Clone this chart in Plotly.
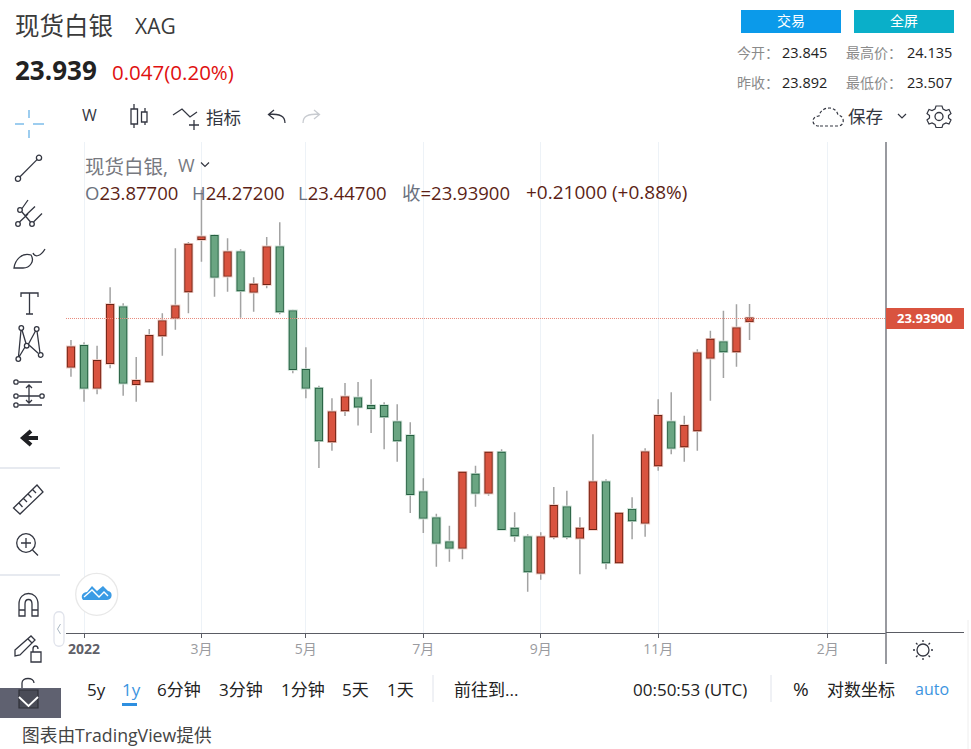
import plotly.graph_objects as go

# weekly candles
dates = [
    "2021-12-27", "2022-01-03", "2022-01-10", "2022-01-17", "2022-01-24", "2022-01-31", "2022-02-07", "2022-02-14",
    "2022-02-21", "2022-02-28", "2022-03-07", "2022-03-14", "2022-03-21", "2022-03-28", "2022-04-04", "2022-04-11",
    "2022-04-18", "2022-04-25", "2022-05-02", "2022-05-09", "2022-05-16", "2022-05-23", "2022-05-30", "2022-06-06",
    "2022-06-13", "2022-06-20", "2022-06-27", "2022-07-04", "2022-07-11", "2022-07-18", "2022-07-25", "2022-08-01",
    "2022-08-08", "2022-08-15", "2022-08-22", "2022-08-29", "2022-09-05", "2022-09-12", "2022-09-19", "2022-09-26",
    "2022-10-03", "2022-10-10", "2022-10-17", "2022-10-24", "2022-10-31", "2022-11-07", "2022-11-14", "2022-11-21",
    "2022-11-28", "2022-12-05", "2022-12-12", "2022-12-19", "2022-12-26",
]
opens = [
    22.833, 23.308, 22.352, 22.918, 24.196, 22.437, 22.498, 23.554, 23.957, 24.563, 25.762, 25.831, 24.921, 25.457,
    24.554, 24.730, 25.572, 24.104, 22.758, 22.329, 21.122, 21.833, 22.109, 21.932, 21.932, 21.558, 21.244, 19.953,
    19.356, 18.806, 18.682, 20.356, 19.944, 20.861, 19.118, 18.920, 18.109, 18.943, 19.609, 18.911, 19.111, 20.182,
    18.347, 19.551, 19.255, 20.572, 21.558, 21.008, 21.375, 23.040, 23.393, 23.187, 23.877,
]
highs = [
    23.446, 23.393, 23.315, 24.654, 24.287, 23.056, 23.698, 24.058, 25.549, 25.693, 26.890, 25.870, 25.778, 25.526,
    24.884, 25.808, 26.145, 24.141, 23.278, 22.398, 22.109, 22.460, 22.482, 22.544, 22.017, 21.971, 21.558, 20.274,
    19.462, 19.187, 20.411, 20.563, 20.870, 20.939, 19.494, 18.989, 19.035, 20.074, 19.989, 19.379, 21.283, 20.251,
    19.485, 19.838, 20.962, 22.086, 22.246, 21.710, 23.232, 23.659, 24.118, 24.265, 24.272,
]
lows = [
    22.604, 22.031, 22.200, 22.797, 22.168, 22.031, 22.494, 23.086, 23.682, 24.058, 25.242, 24.439, 24.554, 23.957,
    24.095, 24.632, 24.035, 22.682, 22.109, 20.510, 20.907, 21.703, 21.485, 21.313, 20.939, 20.655, 19.478, 19.019,
    18.246, 18.361, 18.416, 19.622, 19.874, 19.105, 18.820, 17.673, 17.948, 18.875, 18.875, 18.072, 19.105, 18.187,
    18.338, 18.875, 18.934, 20.448, 20.824, 20.655, 20.907, 22.054, 22.574, 22.833, 23.447,
]
closes = [
    23.278, 22.352, 22.964, 24.249, 22.466, 22.505, 23.538, 23.875, 24.219, 25.632, 25.801, 24.898, 25.457, 24.586,
    24.714, 25.572, 24.104, 22.781, 22.352, 21.145, 21.787, 22.132, 21.921, 21.886, 21.696, 21.145, 19.914, 19.370,
    18.797, 18.682, 20.402, 19.944, 20.861, 19.111, 18.966, 18.141, 18.920, 19.638, 18.943, 19.118, 20.182, 18.347,
    19.462, 19.310, 20.870, 21.703, 20.976, 21.473, 23.141, 23.453, 23.187, 23.714, 23.939,
]
last_price = 23.939

tick_dates = ["2022-01-03", "2022-03-07", "2022-05-02", "2022-07-04", "2022-09-05", "2022-11-07", "2023-02-06"]
tick_labels = ["<b><span style='color:#5f6068'>2022</span></b>", "3月", "5月", "7月", "9月", "11月", "2月"]

UP_FILL, UP_LINE, UP_HALO = "#d9533f", "#6e2416", "#f2cfc8"
DOWN_FILL, DOWN_LINE, DOWN_HALO = "#6aa582", "#245f40", "#cfe2d7"
WICK = "#a3a3a3"
FONT = "Open Sans, Noto Sans CJK SC"
ICON = "#333641"

body_high = [max(o, c) for o, c in zip(opens, closes)]
body_low = [min(o, c) for o, c in zip(opens, closes)]

fig = go.Figure()


def candles(high, low, up_line, down_line, up_fill, down_fill, width):
    fig.add_trace(go.Candlestick(
        x=dates, open=opens, high=high, low=low, close=closes,
        increasing=dict(line=dict(color=up_line, width=width), fillcolor=up_fill),
        decreasing=dict(line=dict(color=down_line, width=width), fillcolor=down_fill),
        whiskerwidth=0, showlegend=False, hoverinfo="skip",
    ))


# wicks first, then pale halo, dark outline and the fill on top
candles(highs, lows, WICK, WICK, WICK, WICK, 1.5)
candles(body_high, body_low, UP_HALO, DOWN_HALO, UP_HALO, DOWN_HALO, 3.6)
candles(body_high, body_low, UP_LINE, DOWN_LINE, UP_LINE, DOWN_LINE, 1.8)
candles(body_high, body_low, UP_FILL, DOWN_FILL, UP_FILL, DOWN_FILL, 0)

# last price line
fig.add_trace(go.Scatter(
    x=["2021-12-24 08:00", "2023-03-09 05:00"], y=[last_price, last_price], mode="lines",
    line=dict(color="#e88a7d", width=1, dash="1px,1px"), showlegend=False, hoverinfo="skip",
))

# empty trace so the pixel overlay axes exist
fig.add_trace(go.Scatter(x=[None], y=[None], xaxis="x2", yaxis="y2", showlegend=False, hoverinfo="skip"))

shapes = []
texts = []


def line(path, color=ICON, width=1.3, dash=None):
    shapes.append(dict(type="path", path=path, xref="x2", yref="y2", layer="above",
                       line=dict(color=color, width=width, dash=dash)))


def fill(path, color, border=None, width=0):
    shapes.append(dict(type="path", path=path, xref="x2", yref="y2", layer="above", fillcolor=color,
                       line=dict(color=border or color, width=width)))


def box(x0, y0, x1, y1, color, border=None, width=0):
    shapes.append(dict(type="rect", x0=x0, y0=y0, x1=x1, y1=y1, xref="x2", yref="y2", layer="above",
                       fillcolor=color, line=dict(color=border or color, width=width)))


def dot(cx, cy, r, border=ICON, width=1.3, color="rgba(0,0,0,0)"):
    shapes.append(dict(type="circle", x0=cx - r, y0=cy - r, x1=cx + r, y1=cy + r, xref="x2", yref="y2",
                       layer="above", fillcolor=color, line=dict(color=border, width=width)))


def text(x, y, s, size=16, color="#222222", anchor="left"):
    # annotations sit about 2px right and 1px low of the given point
    shift = 2 if anchor == "left" else 0
    texts.append(dict(x=x - shift, y=y - 1, text=s, xref="x2", yref="y2", xanchor=anchor, yanchor="middle",
                      showarrow=False, font=dict(family=FONT, size=size, color=color)))


# header
text(15, 26, "现货白银", 24.5, "#3a3a3a")
text(135, 27, "XAG", 21, "#3a3a3a")
text(15, 71, "<b>23.939</b>", 26, "#222222")
text(112, 73, "0.047(0.20%)", 20.5, "#e01010")
box(741, 10, 841, 33, "#0b9aea")
box(854, 10, 954, 33, "#0aafc9")
text(791, 21.5, "交易", 14, "#ffffff", "center")
text(904, 21.5, "全屏", 14, "#ffffff", "center")
for lab, val, lab_x, val_x, y in [("今开：", "23.845", 737, 782, 53), ("最高价：", "24.135", 846, 907, 53),
                                  ("昨收：", "23.892", 737, 782, 83), ("最低价：", "23.507", 846, 907, 83)]:
    text(lab_x, y, lab, 14, "#8a8a8a")
    text(val_x, y, val, 14.5, "#222222")

# top toolbar
text(82, 116, "W", 16, "#333641")
line("M134,104 V128 M145,108 V125", width=1.3)
box(131, 109, 137.5, 124, "#ffffff", ICON, 1.3)
box(141.5, 112, 147, 122, "#ffffff", ICON, 1.3)
line("M173,115 L182,109 L190,117 L197,112 M194,120 V130 M189,125 H199")
text(206, 118, "指标", 17.5, "#333641")
line("M285,123 C285,116 280,114 269,114 M274,110 L268.5,114.5 L274,119", width=1.3)
line("M303,123 C303,116 308,114 319,114 M314,110 L319.5,114.5 L314,119", "#c8cbd0", 1.3)
line("M819,126 C811,126 811,116 819,116 C821,106 836,105 838,115 C845,116 845,126 838,126 Z", width=1.2, dash="3px,2px")
text(848, 117, "保存", 17.5, "#333641")
line("M898,114 L902,118 L906,114", width=1.2)
dot(939, 116.5, 4)
line("M936,106 L942,106 L943,109 L946,110.5 L949,109.5 L951,113.5 L948.5,115.5 L948.5,118 L951,120 L949,124 "
     "L946,123 L943,124.5 L942,127.5 L936,127.5 L935,124.5 L932,123 L929,124 L927,120 L929.5,118 L929.5,115.5 "
     "L927,113.5 L929,109.5 L932,110.5 L935,109 Z", width=1.2)

# left drawing tools
line("M15,124 H24 M33,124 H44 M29,110 V118 M29,130 V138", "#7dbdea", 1.5)
dot(18, 178.7, 2.6)
dot(39, 157.7, 2.6)
line("M20,176.8 L37,159.6")
dot(18, 224, 2.3)
dot(32, 224, 2.3)
dot(20, 210, 2.3)
line("M22,208.5 L28,200 M22,212 L30.5,222 M25,216 L35,206.5 M33.5,222 L42,213.5 M19.5,222 L28,214")
line("M14,268 C15,260 22,252 31,255 C35,261 30,268 23,268 Z M33,253 C35,258 41,256 45,249")
line("M21,297 V293 H38 V297 M29.5,293 V314 M26,314 H33")
for cx, cy in [(21.3, 328), (36.7, 329), (26.7, 345.7), (18.3, 359), (40.7, 355)]:
    dot(cx, cy, 2.3)
line("M22,330 L26,343.5 M35.5,331 L28.5,344 M25,347 L19,357 M29,345 L38.5,353.5 M37,331 L40,353 M21,330 L18.5,356.5")
for cy in [382, 396, 405]:
    dot(16, cy, 2.2)
line("M19,382 H42 M19,396 H39.5 M19,405 H42")
dot(42, 396, 2.2)
line("M29,385 V403 M26,388 L29,385 L32,388 M26,400 L29,403 L32,400")
line("M38,438 H25 M31,431 L23,438 L31,445", "#1f2023", 4)
line("M0,468 H60 M0,575 H60", "#e0e3eb", 1.5)
line("M13.5,508 L37,485 L43,492 L20,514 Z M19,503 L22.5,507 M23.5,498.5 L27,502 M28,494 L31.5,497.5 M32.5,489.5 L36,493")
dot(26, 543, 9.3)
line("M32.5,550 L38,555.5 M21,543 H31 M26,538 V548")
line("M19,616 V604 C19,590 38,590 38,604 V616 H32 V604 C32,598 25,598 25,604 V616 Z M19,610 H25 M32,610 H38")
line("M15,650 L31,636 L35,640 L20,655 L15,656 Z M28,639 L32,643")
box(31, 652, 41, 662, "rgba(0,0,0,0)", ICON, 1.3)
line("M33,652 V649 C33,645 38,645 38,649")
line("M22,688 V683 C22,677 34,677 34,683")

# tool panel bottom tab
box(0, 688, 61, 718, "#5f6170")
box(19, 690, 38, 708, "#4a4c57", "#2f3038", 1.2)
line("M19,697 L28.5,706 L38,697", "#ffffff", 1.8)

# collapse pill and logo
shapes.append(dict(type="path", xref="x2", yref="y2", layer="above", fillcolor="#ffffff",
                   line=dict(color="#e0e3eb", width=1.3),
                   path="M54,617 C54,610 64,610 64,617 V641 C64,648 54,648 54,641 Z"))
line("M60.5,624 L57.5,629 L60.5,634", "#a9b6c2", 1)
dot(96.7, 594.3, 21, "#e8e8e8", 1.3, "#ffffff")
fill("M83,600 C80,596 83,592 87,592 L92,586 L97,591 L103,586 L108,591 C113,591 113,600 107,600 Z", "#3a9be5")
line("M84,597 L92,590 L99,597 L104,592 L108,596", "#ffffff", 1.4)

# chart pane frame, axis line runs on past the pane
line("M886,142 V664", "#7f8188", 1.6)
line("M886,632.5 H964", "#5a5c64", 1.2)
box(886, 308, 964, 329, "#d9533f")
text(925, 318.5, "<b>23.93900</b>", 13, "#ffffff", "center")
dot(923, 650, 6, "#333641", 1.3)
line("M923,640 V642 M923,658 V660 M913,650 H915 M931,650 H933 M916,643 L917.5,644.5 M928.5,655.5 L930,657 "
     "M916,657 L917.5,655.5 M928.5,644.5 L930,643", "#333641", 1.3)

# series legend over the chart
GRAY = "#6b7280"
DARK = "#5c1f16"


def leg(letter, value):
    return f"<span style='color:{GRAY}'>{letter}</span><span style='color:{DARK}'>{value}</span>"


text(85, 167, "现货白银,", 19.5, "#77797f")
text(178, 166, "W", 18, "#77797f")
line("M201,162.5 L205,166.5 L209,162.5", "#333641", 1.2)
text(85, 193, leg("O", "23.87700"), 18.5)
text(192, 193, leg("H", "24.27200"), 18.5)
text(298, 193, leg("L", "23.44700"), 18.5)
text(402, 193, leg("收", "=23.93900"), 18.5)
text(526, 193, leg("", "+0.21000 (+0.88%)"), 19)

# bottom bar
for x, s in [(87, "5y"), (157, "6分钟"), (219, "3分钟"), (281, "1分钟"), (342, "5天"), (387, "1天"),
             (454, "前往到..."), (633, "00:50:53 (UTC)"), (827, "对数坐标")]:
    text(x, 690, s, 17, "#222222")
text(122, 690, "1y", 17, "#3c94e0")
box(122, 703, 137, 706, "#2e8fe0")
text(793, 690, "%", 19, "#222222")
text(915, 690, "auto", 16, "#3c94e0")
line("M433,675 V702 M771,675 V702", "#e0e3eb", 1)
line("M968,620 V749", "#eeeeee", 1)
text(22, 736, "图表由TradingView提供", 17.7, "#444444")

fig.update_layout(
    width=971, height=749, autosize=False,
    margin=dict(l=0, r=0, t=0, b=0),
    paper_bgcolor="#ffffff", plot_bgcolor="rgba(0,0,0,0)",
    showlegend=False,
    font=dict(family=FONT),
    shapes=shapes, annotations=texts,
    xaxis=dict(
        domain=[66 / 971, 886 / 971], range=["2021-12-24 08:00", "2023-03-09 05:00"], type="date",
        tickmode="array", tickvals=tick_dates, ticktext=tick_labels,
        ticks="outside", ticklen=4, tickcolor="#5a5c64", showgrid=True, gridcolor="#edf2f7", gridwidth=1,
        showline=True, linecolor="#5a5c64", linewidth=1.2, zeroline=False,
        tickfont=dict(family=FONT, size=14, color="#9a9ba0"),
        rangeslider=dict(visible=False), anchor="y",
    ),
    yaxis=dict(
        domain=[1 - 632.5 / 749, 1 - 142 / 749], range=[16.737, 27.987],
        showgrid=False, zeroline=False, showticklabels=False, ticks="", anchor="x",
    ),
    xaxis2=dict(domain=[0, 1], range=[0, 971], visible=False, anchor="y2", fixedrange=True),
    yaxis2=dict(domain=[0, 1], range=[749, 0], visible=False, anchor="x2", fixedrange=True),
)

fig.write_html("out.html", config={"displayModeBar": False},
               post_script="document.body.style.margin='0';document.body.style.overflow='hidden';")
